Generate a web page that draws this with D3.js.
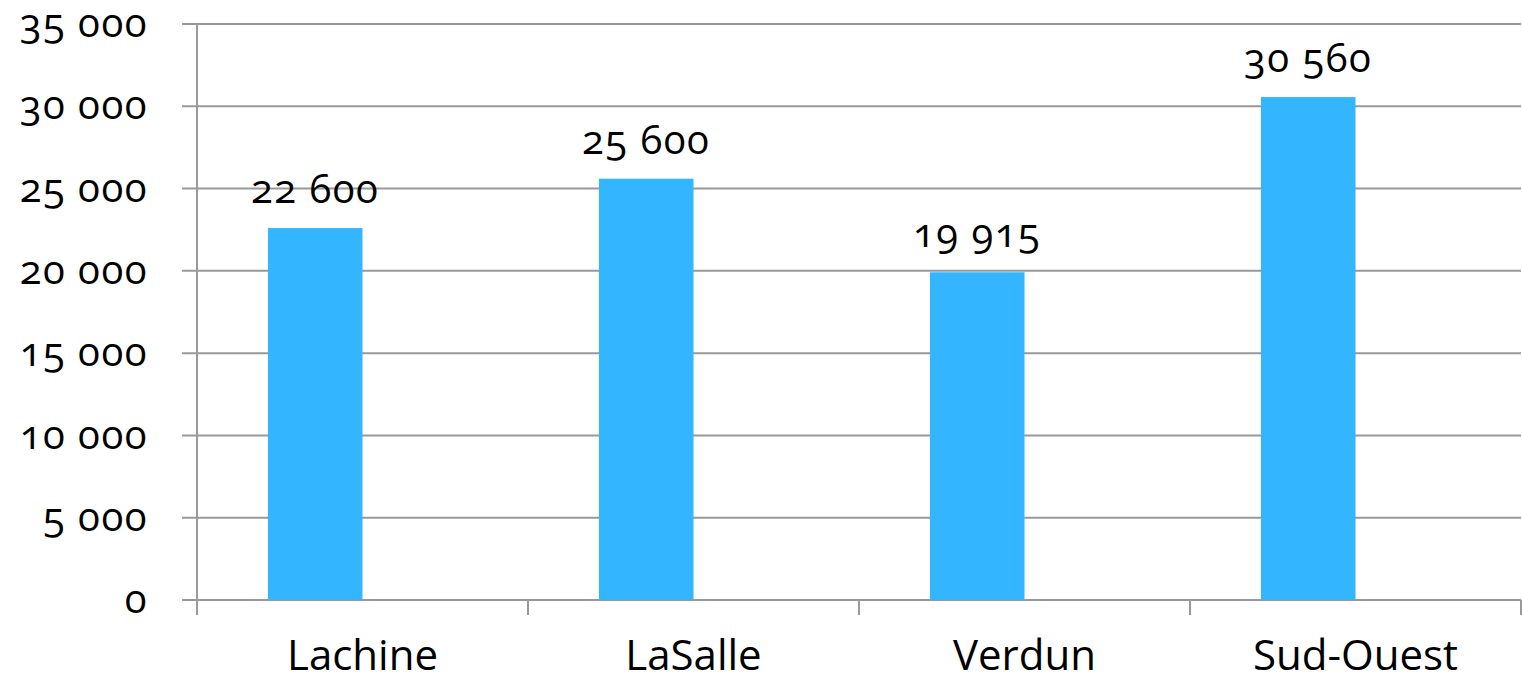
<!DOCTYPE html>
<html>
<head>
<meta charset="utf-8">
<script src="https://cdn.jsdelivr.net/npm/d3@7"></script>
<style>
  body { margin: 0; background: #fff; }
  text { font-family: "Open Sans", "Noto Sans", sans-serif; font-variant-numeric: oldstyle-nums; fill: #000; }
</style>
</head>
<body>
<svg id="chart" width="1522" height="681"></svg>
<script>
// data
const categories = ["Lachine", "LaSalle", "Verdun", "Sud-Ouest"];
const values = [22600, 25600, 19915, 30560];
const yTicks = [0, 5000, 10000, 15000, 20000, 25000, 30000, 35000];

const width = 1522, height = 681;
const margin = { top: 24, right: 1, bottom: 81, left: 197 };

const svg = d3.select("#chart");

const x = d3.scaleBand()
    .domain(categories)
    .range([margin.left, width - margin.right])
    .padding(0);

const y = d3.scaleLinear()
    .domain([0, 35000])
    .range([height - margin.bottom, margin.top]);

// numbers with a space as thousands separator
const fmt = d => d3.format(",")(d).replace(/,/g, " ");

const gridColor = "#999";

// horizontal gridlines + y ticks
svg.append("g")
    .selectAll("line")
    .data(yTicks)
    .join("line")
    .attr("x1", margin.left - 15)
    .attr("x2", width - margin.right)
    .attr("y1", d => y(d))
    .attr("y2", d => y(d))
    .attr("stroke", gridColor)
    .attr("stroke-width", 2);

// y tick labels
svg.append("g")
    .selectAll("text")
    .data(yTicks)
    .join("text")
    .attr("x", margin.left - 49)
    .attr("y", d => y(d))
    .attr("dy", "0.33em")
    .attr("text-anchor", "end")
    .attr("font-size", 40)
    .attr("letter-spacing", 1.5)
    .text(fmt);

// y axis line
svg.append("line")
    .attr("x1", margin.left)
    .attr("x2", margin.left)
    .attr("y1", margin.top)
    .attr("y2", y(0) + 15)
    .attr("stroke", gridColor)
    .attr("stroke-width", 2);

// category ticks (at band edges)
const edges = categories.map(c => x(c)).concat([x.range()[1]]);
svg.append("g")
    .selectAll("line")
    .data(edges.slice(1))
    .join("line")
    .attr("x1", d => d)
    .attr("x2", d => d)
    .attr("y1", y(0))
    .attr("y2", y(0) + 15)
    .attr("stroke", gridColor)
    .attr("stroke-width", 2);

// bars: clustered layout, one visible series out of two, gap 150%
const barW = x.bandwidth() / 3.5;
const barOff = barW * 0.75;

svg.append("g")
    .selectAll("rect")
    .data(values)
    .join("rect")
    .attr("x", (d, i) => x(categories[i]) + barOff)
    .attr("y", d => y(d))
    .attr("width", barW)
    .attr("height", d => y(0) - y(d))
    .attr("fill", "#33b5ff");

// value labels
svg.append("g")
    .selectAll("text")
    .data(values)
    .join("text")
    .attr("x", (d, i) => x(categories[i]) + barOff + barW / 2)
    .attr("y", d => y(d) - 25)
    .attr("text-anchor", "middle")
    .attr("font-size", 40)
    .attr("letter-spacing", 1.5)
    .text(fmt);

// category labels
svg.append("g")
    .selectAll("text")
    .data(categories)
    .join("text")
    .attr("x", d => x(d) + x.bandwidth() / 2)
    .attr("y", 670)
    .attr("text-anchor", "middle")
    .attr("font-size", 42)
    .text(d => d);
</script>
</body>
</html>
